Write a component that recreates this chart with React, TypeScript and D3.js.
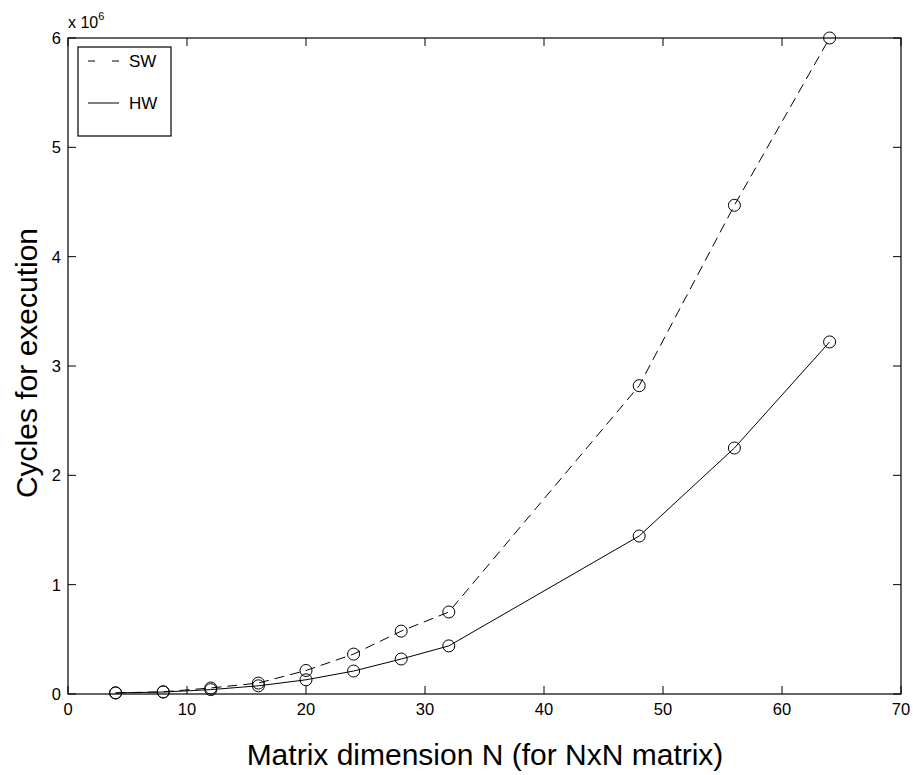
import React from "react";
import * as d3 from "d3";

const xs = [4, 8, 12, 16, 20, 24, 28, 32, 48, 56, 64];
const swValues = [0.01, 0.02, 0.055, 0.1, 0.215, 0.365, 0.575, 0.75, 2.82, 4.47, 6.0];
const hwValues = [0.01, 0.018, 0.04, 0.075, 0.13, 0.21, 0.32, 0.44, 1.445, 2.25, 3.22];
const xTicks = [0, 10, 20, 30, 40, 50, 60, 70];
const yTicks = [0, 1, 2, 3, 4, 5, 6];

const W = 913, H = 775;
const L = 68, R = 901, T = 38, B = 694;
const font = "Liberation Sans, Arial, Helvetica, sans-serif";

export default function App() {
  const x = d3.scaleLinear().domain([0, 70]).range([L, R]);
  const y = d3.scaleLinear().domain([0, 6]).range([B, T]);
  const line = d3.line<number>().x((_, i) => x(xs[i])).y((d) => y(d));
  const tl = 8;
  return (
    <svg width={W} height={H} style={{ position: "absolute", left: 0, top: 0, background: "#fff" }}>
      <rect x={0} y={0} width={W} height={H} fill="#fff" />
      <rect x={L} y={T} width={R - L} height={B - T} fill="none" stroke="#000" strokeWidth={1.2} />
      {xTicks.map((t) => (
        <g key={"x" + t}>
          <line x1={x(t)} x2={x(t)} y1={B} y2={B - tl} stroke="#000" />
          <line x1={x(t)} x2={x(t)} y1={T} y2={T + tl} stroke="#000" />
          <text x={x(t)} y={B + 21} fontSize={16.5} fontFamily={font} textAnchor="middle">{t}</text>
        </g>
      ))}
      {yTicks.map((t) => (
        <g key={"y" + t}>
          <line x1={L} x2={L + tl} y1={y(t)} y2={y(t)} stroke="#000" />
          <line x1={R} x2={R - tl} y1={y(t)} y2={y(t)} stroke="#000" />
          <text x={L - 7} y={y(t) + 6} fontSize={16.5} fontFamily={font} textAnchor="end">{t}</text>
        </g>
      ))}
      <text x={68} y={28} fontSize={16} fontFamily={font}>x 10<tspan dy={-8} fontSize={11}>6</tspan></text>
      <path d={line(swValues) || ""} fill="none" stroke="#000" strokeWidth={1} strokeDasharray="10,6" />
      <path d={line(hwValues) || ""} fill="none" stroke="#000" strokeWidth={1} />
      {swValues.map((v, i) => (
        <circle key={"s" + i} cx={x(xs[i])} cy={y(v)} r={6} fill="none" stroke="#000" strokeWidth={1} />
      ))}
      {hwValues.map((v, i) => (
        <circle key={"h" + i} cx={x(xs[i])} cy={y(v)} r={6} fill="none" stroke="#000" strokeWidth={1} />
      ))}
      <g>
        <rect x={78} y={47} width={93} height={89} fill="#fff" stroke="#000" strokeWidth={1.2} />
        <line x1={88} x2={119} y1={61} y2={61} stroke="#000" strokeDasharray="7,17" />
        <text x={129} y={67} fontSize={17} fontFamily={font}>SW</text>
        <line x1={88} x2={119} y1={103} y2={103} stroke="#000" />
        <text x={129} y={109} fontSize={17} fontFamily={font}>HW</text>
      </g>
      <text x={485} y={765} fontSize={30} fontFamily={font} textAnchor="middle">Matrix dimension N (for NxN matrix)</text>
      <text transform={`translate(37,363) rotate(-90)`} fontSize={30} fontFamily={font} textAnchor="middle">Cycles for execution</text>
    </svg>
  );
}
